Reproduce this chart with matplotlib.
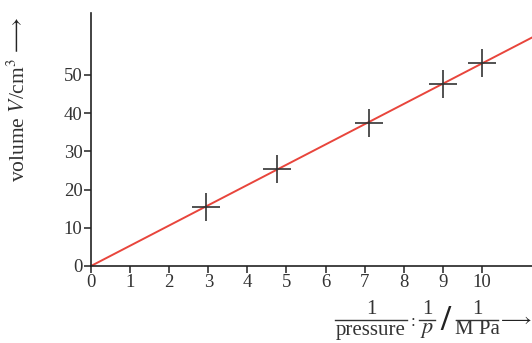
import matplotlib
matplotlib.use("Agg")
import matplotlib.pyplot as plt
from matplotlib.lines import Line2D
import numpy as np

plt.rcParams['font.family'] = ['Liberation Serif', 'DejaVu Serif']
plt.rcParams['mathtext.fontset'] = 'stix'

# measurements: reciprocal pressure (1/MPa) and volume (cm^3)
inv_pressure = [2.95, 4.75, 7.1, 9.0, 10.0]
volume = [15.5, 25.5, 37.5, 47.5, 53.0]
fit_slope = 5.3  # cm^3 per (1/MPa), line through origin

x_ticks = [0, 1, 2, 3, 4, 5, 6, 7, 8, 9, 10]
y_ticks = [0, 10, 20, 30, 40, 50]

W, H = 532, 343
fig = plt.figure(figsize=(W / 100, H / 100), dpi=100)
ax = fig.add_axes([0.171, 0.2245, 0.829, 0.7376])
ax.set_xlim(0, 11.28)
ax.set_ylim(0, 66.2)

xx = np.array([0, 11.28])
ax.plot(xx, fit_slope * xx, color='#e8453c', lw=1.4, zorder=2)
ax.plot(inv_pressure, volume, linestyle='none', marker='+', markersize=20,
        markeredgewidth=1.2, color='#333333', zorder=3)

for side in ('top', 'right'):
    ax.spines[side].set_visible(False)
for side in ('left', 'bottom'):
    ax.spines[side].set_color('#222222')
    ax.spines[side].set_linewidth(1.2)

ax.set_xticks(x_ticks)
ax.set_yticks(y_ticks)
ax.tick_params(axis='both', direction='out', length=5, width=1.1,
               color='#222222', labelsize=13.5, labelcolor='#333333', pad=1)

TXT = '#333333'


def fx(px):
    return px / W


def fy(py):
    return 1 - py / H


def put(px, py, s, size=15, **kw):
    kw.setdefault('color', TXT)
    fig.text(fx(px), fy(py), s, ha='center', va='center', fontsize=size, **kw)


def bar(x0, x1, py):
    fig.add_artist(Line2D([fx(x0), fx(x1)], [fy(py), fy(py)],
                          transform=fig.transFigure, color=TXT, lw=1.0))


# y-axis quantity with upward arrow
put(19, 120, r'volume $V$/cm$^3$', size=15.5, rotation=90)
put(18, 36, r'$\longrightarrow$', size=16, rotation=90, color='#222222')

# x-axis quantity: 1/pressure : 1/p  /  1/MPa  ->
put(371, 309, '1')
bar(335, 407, 320)
put(371, 330, 'pressure')
put(413, 322, ':', size=12)
put(427, 309, '1')
bar(419, 435, 320)
put(427, 330, r'$p$', size=16)
put(445, 321, '/', size=26, fontweight='bold', color='#222222')
put(477, 309, '1')
bar(456, 498, 320)
put(477, 330, 'M Pa')
put(515, 320, r'$\longrightarrow$', size=14, color='#222222')

fig.savefig('out.png', dpi=100)
